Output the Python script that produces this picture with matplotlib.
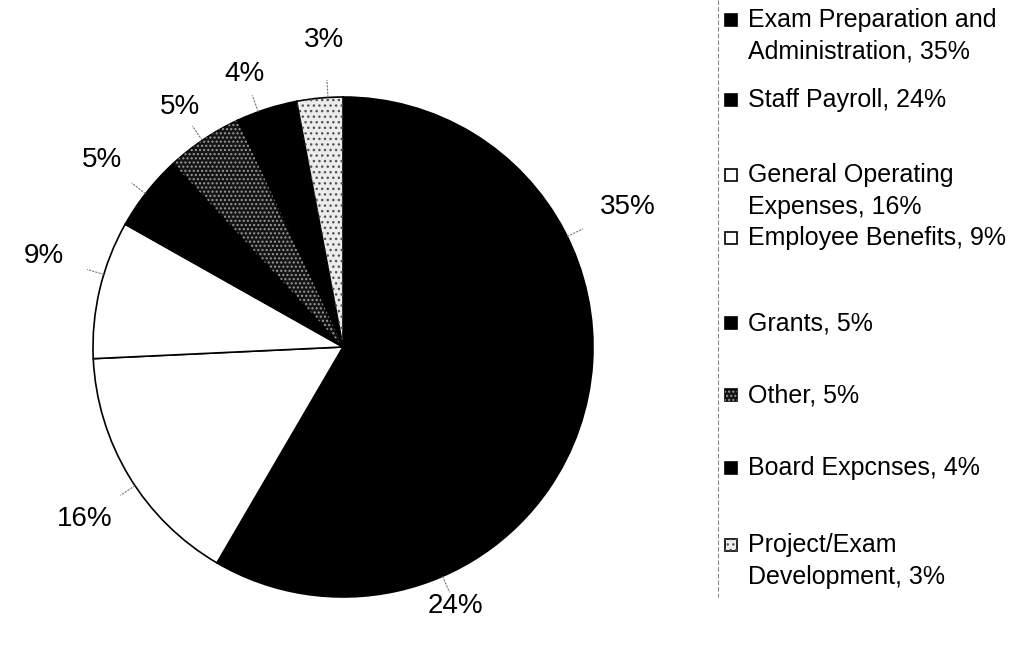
import matplotlib
matplotlib.use("Agg")
import matplotlib.pyplot as plt
from matplotlib.patches import Wedge, Rectangle
import numpy as np

plt.rcParams['font.family'] = ['Liberation Sans', 'DejaVu Sans']

# ---- data ----
categories = ["Exam Preparation and\nAdministration", "Staff Payroll",
              "General Operating\nExpenses", "Employee Benefits",
              "Grants", "Other", "Board Expenses", "Project/Exam\nDevelopment"]
values = [35, 24, 16, 9, 5, 5, 4, 3]
value_labels = ["35%", "24%", "16%", "9%", "5%", "5%", "4%", "3%"]
legend_labels = ["Exam Preparation and\nAdministration, 35%", "Staff Payroll, 24%",
                 "General Operating\nExpenses, 16%", "Employee Benefits, 9%",
                 "Grants, 5%", "Other, 5%", "Board Expcnses, 4%",
                 "Project/Exam\nDevelopment, 3%"]

# ---- styles ----
face_colors = ["#000000", "#000000", "#ffffff", "#ffffff",
               "#000000", "#141414", "#000000", "#ececec"]
hatch_overlay = [None, None, None, None, None, ("#9a9a9a", "...."), None, ("#555555", "...")]
label_dist = [1.27, 1.13, 1.24, 1.25, 1.22, 1.16, 1.16, 1.23]
label_angle_shift = [-1.4, 11, 2.5, -3.5, 0.5, 0.4, 2, -1.9]

W, H = 1026, 650
fig = plt.figure(figsize=(W / 100, H / 100), dpi=100)
ax = fig.add_axes([0, 0, 1, 1])

cx, cy, R = 343, H - 347, 250
wedges, _ = ax.pie(values, colors=face_colors, startangle=90, counterclock=False,
                   radius=R, center=(cx, cy), frame=True,
                   wedgeprops=dict(edgecolor="black", linewidth=1.2))
ax.set_xlim(0, W)
ax.set_ylim(0, H)
ax.set_aspect('equal')
ax.axis('off')

for w, hv in zip(wedges, hatch_overlay):
    if hv is not None:
        col, hp = hv
        ov = Wedge(w.center, w.r, w.theta1, w.theta2, facecolor='none',
                   edgecolor=col, hatch=hp, linewidth=0)
        ax.add_patch(ov)

# labels with leader lines
for w, lab, d, sh in zip(wedges, value_labels, label_dist, label_angle_shift):
    ang = np.deg2rad((w.theta1 + w.theta2) / 2 + sh)
    x0, y0 = w.center
    ax.plot([x0 + w.r * 1.0 * np.cos(ang), x0 + w.r * 1.07 * np.cos(ang)],
            [y0 + w.r * 1.0 * np.sin(ang), y0 + w.r * 1.07 * np.sin(ang)],
            color="#777777", lw=0.8, ls=(0, (2, 1)))
    ax.text(x0 + w.r * d * np.cos(ang), y0 + w.r * d * np.sin(ang), lab,
            ha='center', va='center', fontsize=20, color='black')

# legend (manual, Excel-like)
legend_y = [20, 100, 175, 238, 323, 395, 468, 545]
ax.plot([718, 718], [H - 0, H - 597], color="#888888", lw=0.8, ls=(0, (4, 2)))
for w, lab, fc, hv, yy in zip(wedges, legend_labels, face_colors, hatch_overlay, legend_y):
    ys = H - yy
    sq = Rectangle((725, ys - 6), 12, 12, facecolor=fc, edgecolor='black', lw=1.2)
    ax.add_patch(sq)
    if hv is not None:
        ax.add_patch(Rectangle((725, ys - 6), 12, 12, facecolor='none',
                               edgecolor=hv[0], hatch=hv[1], lw=0))
    for i, line in enumerate(lab.split("\n")):
        ax.text(748, ys - i * 32, line, ha='left', va='center', fontsize=18, color='black')

fig.savefig("out.png", dpi=100)
